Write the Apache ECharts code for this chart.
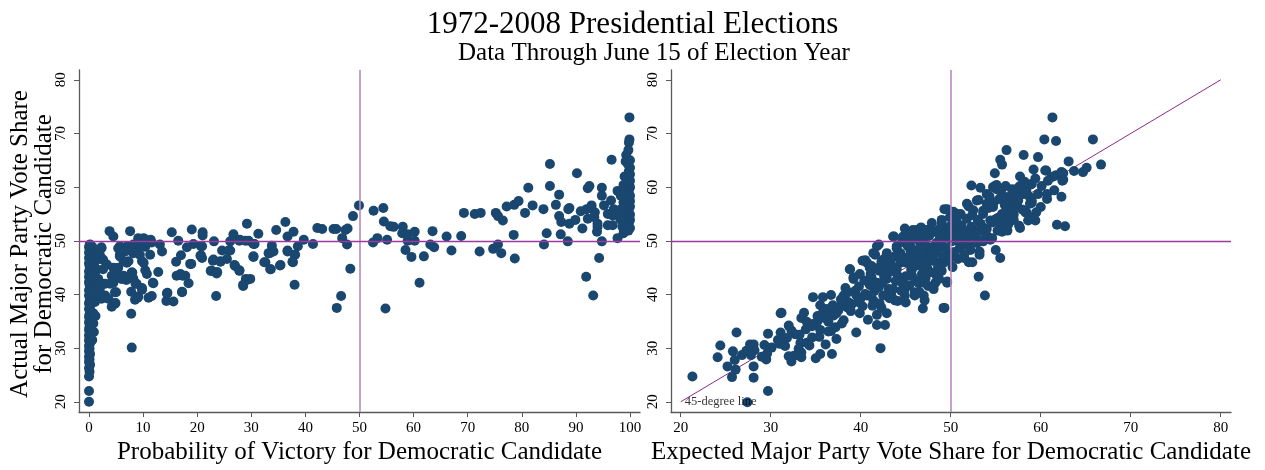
<!DOCTYPE html>
<html>
<head>
<meta charset="utf-8">
<script src="https://cdn.jsdelivr.net/npm/echarts@6/dist/echarts.min.js"></script>
<style>
html,body{margin:0;padding:0;background:#fff;}
#chart{width:1265px;height:470px;}
</style>
</head>
<body>
<div id="chart"></div>
<script>
var titleText = '1972-2008 Presidential Elections';
var subtitleText = 'Data Through June 15 of Election Year';
var yTitleLines = ['Actual Major Party Vote Share', 'for Democratic Candidate'];
var leftXTitle = 'Probability of Victory for Democratic Candidate';
var rightXTitle = 'Expected Major Party Vote Share for Democratic Candidate';
var leftXTicks = [0,10,20,30,40,50,60,70,80,90,100];
var rightXTicks = [20,30,40,50,60,70,80];
var yTicks = [20,30,40,50,60,70,80];
var refValue = 50;
var diagLine = [[20,20],[80,80]];
var diagLabel = '45-degree line';

// Left panel: probability of victory (x) vs actual vote share (y)
var leftPoints = [
[0,20.0],[0,22.0],[0,24.7],[0.1,25.6],[0,26.3],[0.2,26.9],[0,27.4],[0.1,27.9],[0,28.4],[0.2,28.9],[0,29.4],[0.1,29.9],[0,30.4],[0.2,30.9],[0,31.4],[0.1,31.9],[0,32.4],[0.2,32.9],[0,33.4],[0.1,33.9],[0.3,34.3],[0,34.8],[0.2,35.3],[0,35.8],[0.1,36.3],[0.3,36.8],[0,37.3],[0.2,37.8],[0,38.3],[0.1,38.8],[0.3,39.3],[0,39.8],[0.2,40.3],[0,40.8],[0.4,41.3],[0.1,41.8],[0,42.3],[0.3,42.8],[0,43.3],[0.2,43.8],[0,44.3],[0.4,44.8],[0.1,45.3],[0,45.8],[0.3,46.3],[0,46.8],[0.2,47.3],[0,47.8],[0.3,48.3],[0,48.8],[0.1,49.2],
[0.8,34.6],[0.8,36.5],[1.1,38.6],[0.8,39.8],[0.7,41.0],[1.0,42.4],[0.6,43.6],[1.2,44.3],[0.9,45.6],[1.3,46.4],[0.7,47.2],[1.0,48.1],[0.6,48.9],[1.4,47.1],[1.4,44.7],[1.7,42.9],[2.0,41.0],[2.6,42.0],[2.3,48.6],[2.0,47.4],[2.6,46.5],[3.3,45.6],[2.6,44.7],[3.0,42.0],[3.0,39.8],[2.3,39.2],[1.6,40.2],[1.2,36.0],[0.9,33.0],[0.6,31.5],
[3.8,51.8],[4.5,50.8],[7.6,51.8],[10.1,50.5],[11.4,50.2],[11.6,49.7],[15.3,51.6],[16.5,50.0],[19.0,52.1],[21.0,51.6],[21.0,51.0],[19.3,49.4],[18.1,48.8],[20.7,49.0],[23.1,49.9],[20.7,47.3],[17.0,47.3],[16.1,46.1],[18.9,45.7],[22.9,46.3],[24.6,48.2],[25.8,48.2],[24.3,46.1],[25.5,46.6],[26.7,51.2],[26.1,49.9],[27.8,50.0],[28.9,50.0],[29.2,53.2],[26.9,45.5],[27.8,44.5],[29.0,42.9],[28.5,41.6],[22.5,44.4],[23.6,43.9],[23.5,39.7],[16.9,43.8],[17.3,43.5],[18.4,42.1],[17.2,40.4],[14.4,40.2],[15.6,38.7],[14.3,38.8],[12.8,44.2],[11.8,42.2],[11.0,39.4],[10.4,44.5],[10.7,43.8],[9.8,41.2],[9.1,39.6],[8.5,39.0],[7.8,40.5],[8.0,44.1],[8.2,42.9],[8.6,42.0],[7.8,36.4],[7.9,30.1],[5.0,40.4],[4.8,38.3],[4.2,37.7],[6.7,42.9],[6.0,42.9],[4.8,43.9],[4.5,45.0],[6.4,46.2],[7.3,46.2],[9.8,46.2],[11.3,47.4],[5.7,47.4],[5.7,49.0],[7.0,49.0],[8.2,49.3],[9.4,49.3],[9.1,47.7],[8.2,47.7],[13.1,49.3],[13.5,48.0],[2.3,48.8],[0.2,49.3],[4.5,42.2],[5.1,43.5],[4.2,43.5],[3.9,42.0],[4.8,40.4],[3.6,39.2],[5.4,45.0],[6.4,43.5],[7.0,45.9],[7.9,44.1],[8.8,42.0],[10.1,45.9],[10.4,48.9],[9.4,47.4],[5.4,48.6],[6.7,48.0],[8.5,49.0],[9.1,50.5],[5.7,47.1],[11.6,39.7],[14.5,40.3],[17.2,40.5],[18.7,45.7],[16.2,43.5],[17.8,43.5],[11.9,42.1],[9.8,40.9],[9.0,39.4],[4.9,38.4],[6.9,42.7],[5.1,44.0],
[22.7,44.4],[23.7,44.2],[20.9,46.8],[20.9,49.0],[20.6,47.2],[23.0,46.5],[24.3,46.2],[26.1,48.2],[27.0,45.3],[27.8,44.4],[29.2,42.7],[28.5,41.8],[30.4,47.0],[32.6,46.0],[33.5,44.7],[33.4,47.7],[34.1,48.0],[35.3,45.4],[36.7,48.2],[37.7,46.0],[38.1,47.4],[38.6,49.0],[38.0,41.8],[39.7,50.2],[41.4,49.4],[45.8,37.5],[46.6,39.7],[48.3,44.8],[46.8,50.5],[47.7,49.3],[30.6,49.4],[27.9,50.2],[29.5,50.0],[31.3,51.3],[33.8,49.1],[34.6,52.0],[36.3,53.5],[36.7,50.8],[37.8,51.7],[42.2,52.4],[43.1,52.2],[45.2,52.2],[45.7,52.2],[47.4,52.0],[47.8,52.3],[48.8,54.6],[49.9,56.6],[30.4,49.4],[33.8,48.0],[33.2,47.7],[36.7,48.0],[38.0,47.4],[37.6,46.1],[30.4,47.1],[32.4,46.0],[33.6,44.7],[35.4,45.5],[29.8,42.9],
[52.6,55.6],[54.4,56.1],[54.5,53.6],[55.7,52.7],[56.3,52.6],[53.3,50.5],[52.5,49.7],[55.1,50.2],[54.8,37.4],[58.0,52.6],[57.9,51.4],[58.9,51.2],[58.9,50.0],[60.2,51.7],[60.2,50.0],[58.5,48.3],[59.6,47.0],[61.9,47.1],[61.1,42.2],[63.5,51.8],[63.1,49.3],[63.8,48.8],[66.1,50.8],[67.0,48.2],[68.8,50.9],[69.3,55.2],[71.3,55.0],[72.4,55.2],[72.2,48.0],[75.2,55.2],[75.6,54.6],[76.5,53.8],[74.7,48.5],[75.6,49.3],[76.2,47.7],[77.2,56.4],[78.6,56.7],[79.4,57.4],[78.5,51.1],[78.7,46.7],[80.6,55.2],[81.2,59.9],[82.0,56.6],[84.0,55.9],[84.1,49.3],[84.6,51.4],[85.2,64.3],[85.2,60.2],[86.3,56.7],[86.9,58.6],[86.9,54.6],[87.3,53.5],[87.2,51.2],[88.5,49.9],[88.8,53.2],[88.6,55.9],[89.9,53.9],[90.2,62.6],[90.9,55.5],[91.2,52.3],[91.9,43.3],[92.2,59.8],[92.5,60.2],[92.0,55.9],[92.2,54.1],[92.9,56.6],[93.2,39.8],[93.5,55.3],[94.0,52.6],[93.9,51.7],[94.3,46.8],[94.8,49.9],[94.8,59.9],[94.8,58.4],[95.2,56.6],[95.9,55.0],[95.9,52.9],[96.6,65.1],[96.5,57.5],[96.8,52.9],[97.0,55.9],[97.7,50.5],[97.7,59.3],[98.0,55.6],[98.8,51.4],[88.8,56.1],[93.4,54.4],[94.0,53.2],[96.8,54.7],[98.3,58.4],
[99.9,73.0],[99.9,68.9],[99.8,68.3],[99.7,66.9],[99.3,66.0],[100,65.0],[99.6,64.3],[100,63.6],[99.8,63.0],[100,62.4],[99.7,61.8],[100,61.2],[99.5,60.6],[100,60.0],[99.8,59.4],[99.3,58.9],[100,58.4],[99.7,57.9],[100,57.4],[99.4,56.9],[100,56.4],[99.8,55.9],[99.2,55.4],[100,54.9],[99.6,54.4],[100,53.9],[99.8,53.4],[99.3,52.9],[100,52.4],[99.7,51.9],[98.8,57.2],[98.5,56.0],[98.9,58.6],[98.2,54.0],[98.6,52.6],[99.0,62.0],[99.2,64.8],[98.8,60.4]
];

// Right panel: expected vote share (x) vs actual vote share (y)
var rightPoints = [
[21.3,24.7],[24.4,30.5],[24.1,28.3],[25.2,26.6],[25.7,24.6],[25.8,29.4],[26.0,27.8],[26.2,32.9],[26.1,26.0],[26.8,28.7],[27.3,29.5],[27.7,30.7],[28.1,30.7],[28.2,29.6],[28.1,26.6],[28.1,24.5],[27.4,19.9],[29.3,30.6],[29.6,29.0],[29.5,27.9],[29.7,32.7],[29.7,22.0],[30.1,30.1],[31.1,36.5],[31.2,36.6],[31.1,32.9],[31.0,30.8],[31.6,30.4],[32.0,34.2],[32.3,33.3],[32.7,32.6],[32.3,27.5],[32.6,28.6],[33.3,31.0],[33.4,35.6],[33.4,29.2],[33.4,28.3],[33.7,36.6],[34.0,34.9],[34.0,31.0],[34.6,32.0],[34.7,34.5],[34.7,39.5],[35.0,28.1],[35.5,28.9],[35.2,36.0],[35.5,38.0],[35.5,33.4],[35.8,39.5],[36.0,35.6],[36.1,30.7],[36.4,34.9],[36.7,33.2],[36.8,36.8],[36.7,39.9],[36.8,28.9],[37.3,31.7],[37.3,36.5],[37.7,37.7],[37.9,34.6],[38.1,39.8],[38.3,41.2],[38.6,38.6],[38.8,44.7],[39.2,43.2],[39.4,40.7],[39.5,32.9],[39.7,38.6],[39.9,36.5],[39.9,43.8],[40.2,46.3],[40.7,45.9],[40.7,39.8],[40.8,35.3],[41.0,45.0],[41.2,43.2],[41.4,47.7],[41.8,49.0],[41.8,36.2],[41.8,34.3],[42.1,38.3],[42.2,30.0],[42.4,42.2],[42.7,34.3],[42.9,36.5],[43.1,41.0],[43.3,44.4],[43.4,39.8],[43.7,50.8],[43.8,47.1],[44.1,43.5],[44.4,45.9],[44.6,42.2],[44.9,41.0],[45.0,38.5],[45.1,50.5],[45.5,48.3],[45.7,44.7],[45.8,52.0],[46.0,39.8],[46.4,42.2],[46.6,49.6],[46.8,46.6],[46.9,37.4],[47.0,39.8],[47.1,38.9],[47.3,52.0],[47.6,44.1],[47.7,47.7],[48.1,41.0],[48.3,42.2],[48.4,49.6],[48.6,45.9],[49.0,53.2],[49.2,37.5],[49.3,55.9],[49.6,50.8],[49.6,42.4],[49.7,47.7],[49.9,54.4],
[43.6,50.8],[42.0,49.3],[41.6,47.4],[40.5,46.4],[41.2,45.3],[38.8,44.7],[39.2,42.9],[42.1,44.4],[43.3,45.9],[44.4,47.7],[45.5,49.0],[46.6,50.2],[47.7,51.4],[48.8,52.3],[49.6,55.9],[48.8,50.2],[47.7,47.7],[46.8,45.3],[45.7,43.5],[44.7,42.2],[43.6,41.0],[42.5,39.8],[41.4,38.9],[42.9,42.9],[44.0,44.7],[45.1,45.9],[46.2,47.1],[47.3,49.0],[48.4,47.7],[49.2,45.9],[48.1,44.1],[47.0,42.2],[46.0,40.4],[44.9,39.8],[43.8,38.9],[41.8,42.2],[46.2,52.0],[47.5,52.0],[44.7,50.8],[45.1,49.6],[44.0,49.0],[42.9,47.7],[42.5,46.5],[50.7,55.0],[50.7,52.0],
[61.3,73.0],[60.4,68.9],[61.7,68.6],[56.2,66.9],[55.5,65.1],[55.7,64.2],[58.1,66.0],[59.7,65.6],[54.9,62.6],[59.2,63.3],[57.7,62.0],[60.6,63.1],[52.3,60.3],[53.3,59.9],[54.0,58.7],[54.7,60.0],[55.1,60.4],[56.1,60.2],[57.5,59.9],[59.0,60.6],[58.4,59.3],[59.7,58.7],[58.8,58.1],[58.1,58.7],[57.5,57.5],[56.6,57.5],[58.8,56.9],[59.5,55.3],[58.4,55.3],[59.4,53.8],[58.6,53.8],[57.7,52.4],[58.3,55.3],[60.7,58.7],[60.7,57.8],[61.4,62.0],[62.3,62.8],[62.5,61.4],[61.5,59.4],[62.3,58.2],[61.8,53.0],[62.7,52.7],[63.1,64.8],
[65.8,68.9],[66.7,64.2],[65.1,63.6],[64.7,62.8],[63.7,63.0],[62.5,62.6],[62.4,61.2],[61.7,62.2],[61.2,61.9],[60.5,63.1],[58.9,60.5],[55.5,46.8],[55.0,48.3],[53.2,48.0],[52.4,46.0],[51.5,46.8],[53.1,43.3],[53.8,39.8],[49.6,42.2],[49.3,37.5],[49.9,47.1],[54.4,50.2],[55.7,51.7],[53.6,49.9],[52.9,49.6],[52.1,49.0],[51.0,49.6],[50.3,50.5],[49.6,52.0],[50.7,54.4],[51.8,56.9],[52.5,55.7],[52.9,57.5],[54.0,56.9],[54.9,60.2],[55.1,59.6],[56.2,58.1],[57.0,56.9],[57.3,59.0],[58.4,59.0],[59.0,57.5],[56.6,55.0],[55.7,55.0],[54.7,56.3],[53.6,55.0],[54.4,53.8],[53.3,53.2],[52.3,52.6],[51.4,52.0],[57.7,60.2],
[44.2,47.3],[44.8,46.2],[45.3,47.0],[45.9,46.1],[46.3,48.3],[46.9,47.6],[47.4,46.4],[47.9,48.8],[48.5,48.2],[49.0,49.5],[49.4,48.6],[50.1,49.9],[50.5,51.2],[51.0,50.7],[51.4,51.6],[51.8,50.4],[52.2,51.3],[52.6,50.9],[53.1,51.8],[53.5,52.6],[54.0,52.2],[54.6,53.4],[55.1,54.1],[55.5,53.2],[56.0,54.5],[56.5,55.6],[57.0,54.9],[57.5,56.2],[58.0,55.8],[43.5,45.2],[43.0,44.1],[42.6,43.3],[42.0,41.3],[41.5,40.6],[41.0,41.8],[40.5,40.1],[40.0,39.3],[39.5,39.9],[39.0,38.2],[38.5,37.6],[38.0,38.5],[37.5,37.0],[37.0,36.1],[45.0,43.4],[45.6,44.6],[46.2,45.4],[46.8,43.8],[47.4,44.9],[48.0,46.3],[48.6,45.2],[49.2,47.0],[49.8,46.3],[50.4,47.9],[51.0,48.6],[51.6,49.3],[52.2,48.3],[52.8,49.8],[53.4,50.1],[54.0,51.0],[54.6,50.5],[55.2,51.9],[55.8,52.8],[56.4,53.1],[57.0,53.9],[44.0,48.6],[44.6,49.8],[45.2,49.1],[45.8,50.3],[46.4,51.1],[47.0,50.4],[47.6,50.9],[48.2,51.7],[48.8,50.8],[49.4,51.4],[50.0,52.8],[50.6,53.6],[51.2,52.9],[51.8,54.1],[52.4,54.8],[53.0,53.9],[53.6,55.6],[54.2,56.1],[54.8,57.2],[55.4,57.8],[56.0,56.7],[56.6,58.3],[57.2,57.4],[43.2,46.8],[42.8,45.5],[43.9,42.5],[44.5,40.7],[45.4,41.7],[46.1,42.6],[47.2,43.0],[48.4,43.6],[49.0,44.4],[50.2,45.1],[50.8,46.6],[51.5,47.5],[52.0,46.0],[53.2,47.4],[39.8,41.5],[40.4,42.6],[41.1,43.8],[41.8,44.9],[42.3,46.1],[38.6,40.4],[37.8,39.1],[36.9,38.0],[36.2,37.3],[35.8,36.6],[35.2,35.0],[34.6,34.1],[33.9,33.5],[33.2,32.5],[30.8,31.5],[31.8,31.9],[29.0,28.4],[27.8,28.7],[44.9,52.3],[45.5,51.5],[46.7,52.5],[47.9,53.3],[49.0,53.9],[50.3,55.4],[51.1,55.0],[52.0,56.4],[53.1,57.6],[54.3,58.3],[55.6,59.1],[56.8,59.6],[58.2,61.0],[59.4,61.6],[60.1,60.2],[60.8,61.2],[59.0,57.1],[60.0,56.3],[56.3,51.9],[57.6,52.8],[58.8,54.4],[47.5,41.6],[48.7,42.9],[46.5,40.5],[44.1,38.8],[43.2,39.3],[42.3,37.5],[41.3,37.9],[40.2,37.8],[38.9,36.9],[38.1,35.2],[37.2,33.9],[36.4,33.1],[35.4,32.1],[34.3,30.5],[33.1,29.9],[32.0,28.5]
];

var serif = 'Liberation Serif, Times New Roman, serif';
var dotColor = '#1a476f';
var hColor = '#9c3aa0';
var diagColor = '#8c2b8c';
var vColor = '#b98ac1';
var axisGray = '#5a5a5a';

function xAxisCfg(gridIndex, min, max, ticks, name) {
  return {
    type: 'value', gridIndex: gridIndex, min: min, max: max,
    name: name, nameLocation: 'middle', nameGap: 27,
    nameTextStyle: {fontFamily: serif, fontSize: 25, color: '#000'},
    axisLine: {show: true, onZero: false, lineStyle: {color: axisGray, width: 1.3}},
    axisTick: {show: true, customValues: ticks, length: 5, lineStyle: {color: axisGray, width: 1}},
    axisLabel: {customValues: ticks, fontFamily: serif, fontSize: 15, color: '#000', margin: 8},
    splitLine: {show: false}
  };
}
function yAxisCfg(gridIndex) {
  return {
    type: 'value', gridIndex: gridIndex, min: 18.08, max: 81.83,
    axisLine: {show: true, onZero: false, lineStyle: {color: axisGray, width: 1.3}},
    axisTick: {show: true, customValues: yTicks, length: 5, lineStyle: {color: axisGray, width: 1}},
    axisLabel: {customValues: yTicks, rotate: 90, fontFamily: serif, fontSize: 15, color: '#000', margin: 10},
    splitLine: {show: false}
  };
}
function refLine(xi, yi, dim, color, width) {
  var item = {};
  item[dim] = refValue;
  return {
    type: 'line', xAxisIndex: xi, yAxisIndex: yi, data: [], z: 1, silent: true,
    color: color,
    markLine: {
      silent: true, symbol: ['none','none'], label: {show: false}, animation: false,
      lineStyle: {color: color, width: width, type: 'solid', opacity: 1},
      emphasis: {disabled: true},
      data: [item]
    }
  };
}

var chart = echarts.init(document.getElementById('chart'), null, {renderer: 'canvas'});
chart.setOption({
  animation: false,
  backgroundColor: '#fff',
  title: [
    {text: titleText, left: 'center', top: 4, textStyle: {fontFamily: serif, fontSize: 31, fontWeight: 'normal', color: '#000'}},
    {text: subtitleText, left: 453, top: 36, textStyle: {fontFamily: serif, fontSize: 25, fontWeight: 'normal', color: '#000'}}
  ],
  graphic: [
    {type: 'text', x: 20, y: 244, rotation: Math.PI/2, style: {text: yTitleLines[0], font: '25px ' + serif, fill: '#000', align: 'center', verticalAlign: 'middle'}},
    {type: 'text', x: 44, y: 244, rotation: Math.PI/2, style: {text: yTitleLines[1], font: '25px ' + serif, fill: '#000', align: 'center', verticalAlign: 'middle'}}
  ],
  grid: [
    {left: 79, right: 625, top: 70, bottom: 51},
    {left: 671, right: 34, top: 70, bottom: 51}
  ],
  xAxis: [
    xAxisCfg(0, -1.85, 101.85, leftXTicks, leftXTitle),
    xAxisCfg(1, 18.92, 81.14, rightXTicks, rightXTitle)
  ],
  yAxis: [yAxisCfg(0), yAxisCfg(1)],
  series: [
    refLine(0, 0, 'xAxis', vColor, 1.6),
    refLine(0, 0, 'yAxis', hColor, 1.3),
    refLine(1, 1, 'xAxis', vColor, 1.6),
    refLine(1, 1, 'yAxis', hColor, 1.3),
    {type: 'line', xAxisIndex: 1, yAxisIndex: 1, data: diagLine, showSymbol: false, symbol: 'none', z: 1,
      lineStyle: {color: diagColor, width: 1}, silent: true},
    {type: 'scatter', xAxisIndex: 1, yAxisIndex: 1, z: 4, silent: true, symbolSize: 0,
      data: [diagLine[0]],
      label: {show: true, position: 'right', distance: 4, formatter: diagLabel, fontFamily: serif, fontSize: 12.5, color: '#000'}},
    {type: 'scatter', xAxisIndex: 0, yAxisIndex: 0, data: leftPoints, symbolSize: 10, z: 3,
      itemStyle: {color: dotColor, opacity: 1}},
    {type: 'scatter', xAxisIndex: 1, yAxisIndex: 1, data: rightPoints, symbolSize: 10, z: 3,
      itemStyle: {color: dotColor, opacity: 1}}
  ]
});
</script>
</body>
</html>
